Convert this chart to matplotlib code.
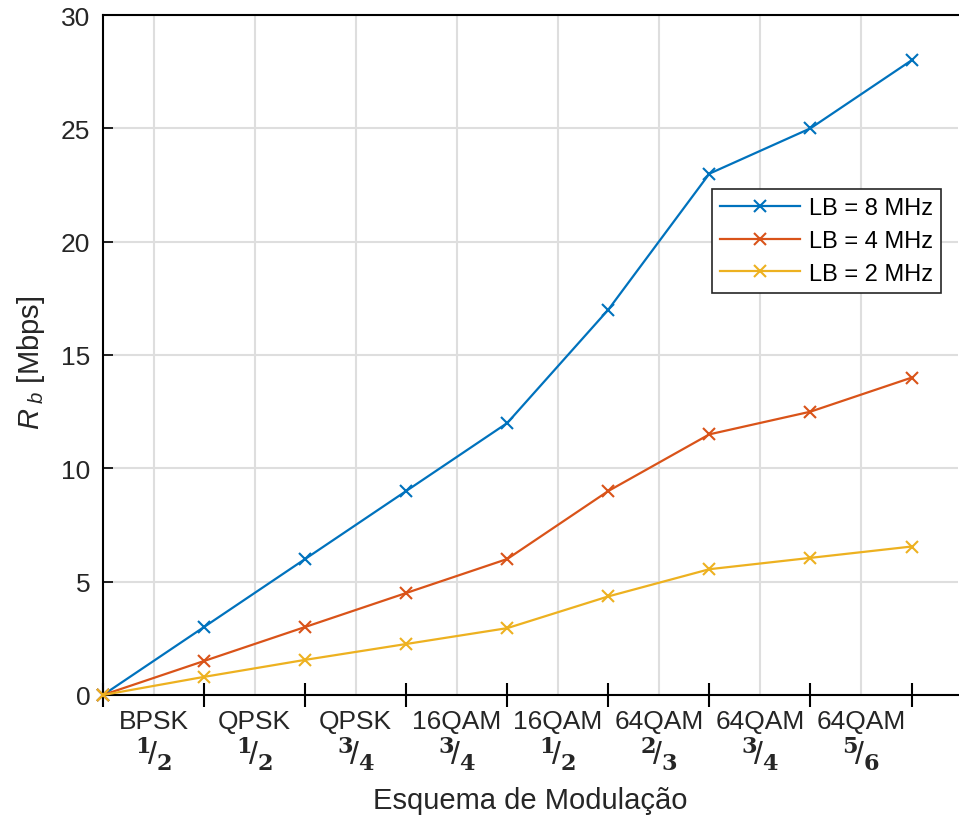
import matplotlib
matplotlib.use("Agg")
import matplotlib.pyplot as plt
import numpy as np

plt.rcParams['font.family'] = ['Liberation Sans', 'DejaVu Sans']
plt.rcParams['mathtext.fontset'] = 'custom'
plt.rcParams['mathtext.rm'] = 'Liberation Sans'
plt.rcParams['mathtext.it'] = 'Liberation Sans:italic'
plt.rcParams['mathtext.bf'] = 'DejaVu Serif:bold'

# Modulation schemes and coding rates
schemes = ['BPSK', 'QPSK', 'QPSK', '16QAM', '16QAM', '64QAM', '64QAM', '64QAM']
rates = [(1, 2), (1, 2), (3, 4), (3, 4), (1, 2), (2, 3), (3, 4), (5, 6)]

# Bit rate [Mbps] per bandwidth
rb_8mhz = [0, 3, 6, 9, 12, 17, 23, 25, 28]
rb_4mhz = [0, 1.5, 3, 4.5, 6, 9, 11.5, 12.5, 14]
rb_2mhz = [0, 0.8, 1.55, 2.25, 2.95, 4.35, 5.55, 6.05, 6.55]

series = [
    (rb_8mhz, 'LB = 8 MHz', '#0072BD'),
    (rb_4mhz, 'LB = 4 MHz', '#D95319'),
    (rb_2mhz, 'LB = 2 MHz', '#EDB120'),
]

fig = plt.figure(figsize=(9.59, 8.2), dpi=100)
ax = fig.add_axes([103 / 959, 1 - 696 / 820, (958 - 103) / 959, (696 - 16) / 820])

x = np.arange(len(rb_8mhz))
for vals, label, color in series:
    ax.plot(x, vals, color=color, lw=1.6, marker='x', ms=9, mew=1.5,
            label=label, clip_on=False, zorder=3)

ax.set_xlim(0, 8.46)
ax.set_ylim(0, 30)

# Major ticks on the points, labels between them
ax.set_xticks(x)
ax.set_xticklabels([''] * len(x))
mids = x[:-1] + 0.5
ax.set_xticks(mids, minor=True)
ax.set_xticklabels(schemes, minor=True)
ax.tick_params(axis='x', which='major', direction='inout', length=17, width=1.5,
               color='black')
ax.tick_params(axis='x', which='minor', length=0, pad=10, labelsize=19,
               labelcolor='#262626')
ax.set_yticks(np.arange(0, 31, 5))
ax.tick_params(axis='y', direction='in', length=7, width=1.2, pad=9,
               labelsize=19, labelcolor='#262626')

# Coding rate fractions under each scheme
for xm, (n, d) in zip(mids, rates):
    ax.annotate(r'$^{\mathbf{%d}}\!/_{\mathbf{%d}}$' % (n, d),
                xy=(xm, 0), xycoords=('data', 'axes fraction'),
                xytext=(0, -29), textcoords='offset points',
                ha='center', va='top', fontsize=23, color='#262626')

ax.grid(False)
ax.grid(True, which='minor', axis='x', color='#dedede', lw=1.5)
ax.grid(True, which='major', axis='y', color='#dedede', lw=1.5)
ax.set_axisbelow(True)

for s in ['left', 'bottom', 'top']:
    ax.spines[s].set_linewidth(1.5)
    ax.spines[s].set_color('black')
ax.spines['right'].set_visible(False)

ax.set_xlabel('Esquema de Modulação', fontsize=21, color='#262626', labelpad=38)
ax.set_ylabel(r'$R_{\ b}$ [Mbps]', fontsize=21, color='#262626', labelpad=10)
ax.yaxis.set_label_coords(-0.065, 0.49)

leg = ax.legend(loc='upper right', bbox_to_anchor=(0.98, 0.744), borderaxespad=0,
                fontsize=17, handlelength=3.4, fancybox=False, framealpha=1,
                edgecolor='#262626', borderpad=0.35, labelspacing=0.45,
                handletextpad=0.35)
leg.get_frame().set_linewidth(1.2)

fig.savefig('out.png', dpi=100)
